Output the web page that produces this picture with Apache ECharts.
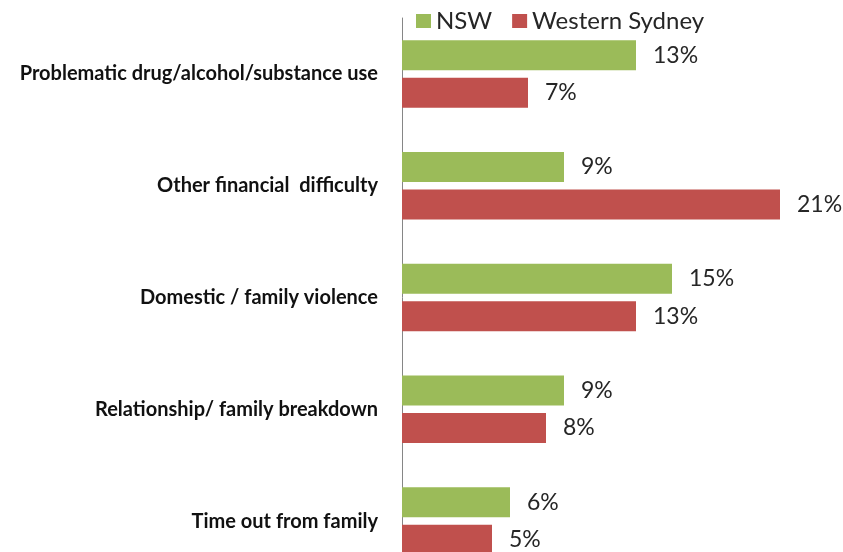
<!DOCTYPE html>
<html>
<head>
    <meta charset="UTF-8">
    <title>Reasons</title>
    <style>
        body, html {
            margin: 0;
            padding: 0;
            width: 100%;
            height: 100%;
            overflow: hidden;
            background: #fff;
        }
        /* taller than the window: the last category is cut off like in the source picture */
        #container {
            width: 843px;
            height: 577px;
        }
    </style>
</head>
<body>
<div id="container"></div>

<script src="https://cdn.jsdelivr.net/npm/echarts@6/dist/echarts.min.js"></script>
<script>
    // data
    var categories = ['Problematic drug/alcohol/substance use', 'Other financial  difficulty', 'Domestic / family violence', 'Relationship/ family breakdown', 'Time out from family'];
    var seriesNames = ['NSW', 'Western Sydney'];
    var nswValues = [13, 9, 15, 9, 6];
    var westernSydneyValues = [7, 21, 13, 8, 5];
    var colorList = ['#9BBB59', '#C0504D'];

    function makeSeries(name, values, color) {
        return {
            name: name,
            type: 'bar',
            barWidth: 30,
            barGap: '25%',
            itemStyle: {color: color},
            label: {
                show: true,
                position: 'right',
                distance: 17,
                formatter: '{c}%',
                fontFamily: 'Lato',
                fontSize: 23,
                color: '#262626'
            },
            data: values
        };
    }

    var chart = echarts.init(document.getElementById('container'));
    var option = {
        animation: false,
        legend: {
            data: seriesNames,
            left: 411,
            top: 4,
            itemWidth: 15,
            itemHeight: 14,
            itemGap: 20,
            icon: 'rect',
            textStyle: {
                fontFamily: 'Lato',
                fontSize: 24,
                color: '#262626',
                padding: [0, 0, 0, 0]
            }
        },
        grid: {
            left: 402,
            right: 9,
            top: 18,
            bottom: 0
        },
        xAxis: {
            type: 'value',
            min: 0,
            max: 24,
            show: false
        },
        yAxis: {
            type: 'category',
            inverse: true,
            data: categories,
            axisLine: {lineStyle: {color: '#868686', width: 1}},
            axisTick: {show: false},
            axisLabel: {
                margin: 24,
                fontFamily: 'Lato',
                fontWeight: 'bold',
                fontSize: 20,
                color: '#111'
            }
        },
        series: [
            makeSeries(seriesNames[0], nswValues, colorList[0]),
            makeSeries(seriesNames[1], westernSydneyValues, colorList[1])
        ]
    };
    chart.setOption(option);
</script>
</body>
</html>
